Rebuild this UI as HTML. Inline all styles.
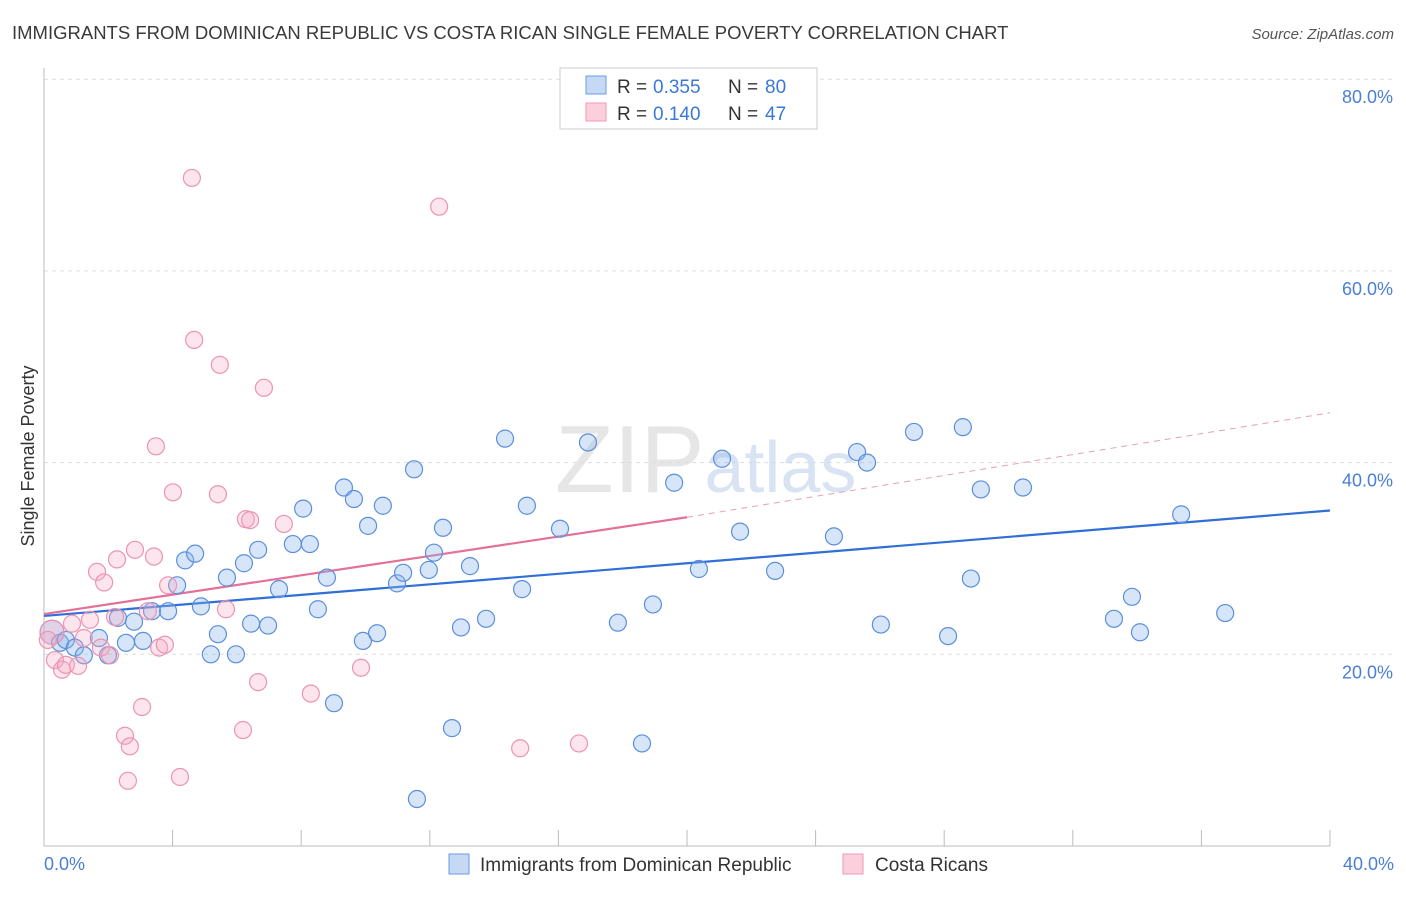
<!DOCTYPE html>
<html><head><meta charset="utf-8"><style>
body{margin:0;background:#fff;font-family:"Liberation Sans",sans-serif;}
svg text{font-family:"Liberation Sans",sans-serif;}
</style></head><body>
<svg id="chart" width="1406" height="892" viewBox="0 0 1406 892">
<text x="12" y="39" font-size="18.5" fill="#3a3a3a">IMMIGRANTS FROM DOMINICAN REPUBLIC VS COSTA RICAN SINGLE FEMALE POVERTY CORRELATION CHART</text>
<text x="1394" y="39" font-size="15" fill="#555" text-anchor="end" font-style="italic">Source: ZipAtlas.com</text>
<text transform="translate(34,456) rotate(-90)" font-size="18" fill="#333" text-anchor="middle">Single Female Poverty</text>
<g id="grid"></g>
<text x="555" y="492" font-size="96" fill="#dcdcdc" font-family="Liberation Serif" opacity="0.7">ZIP<tspan fill="#c8d8ee" font-family="Liberation Sans" font-size="72">atlas</tspan></text>
<line x1="44" y1="68" x2="44" y2="846" stroke="#bbb"/>
<line x1="44" y1="846" x2="1330" y2="846" stroke="#bbb"/>
<g id="ticks"></g>
<g id="trend"></g>
<g id="points"></g>
<text x="44" y="870" font-size="18" fill="#4a7fd4">0.0%</text>
<text x="1394" y="870" font-size="18" fill="#4a7fd4" text-anchor="end">40.0%</text>
<g>
<rect x="560" y="68" width="257" height="61" fill="#fff" stroke="#ccc"/>
<rect x="586" y="76" width="20" height="18" fill="#c5d9f5" stroke="#6b9be0"/>
<rect x="586" y="103" width="20" height="18" fill="#fbd0dc" stroke="#ec9ab3"/>
<text x="617" y="93" font-size="19" fill="#333">R = </text>
<text x="653" y="93" font-size="19" fill="#3b78d8">0.355</text>
<text x="728" y="93" font-size="19" fill="#333">N = </text>
<text x="765" y="93" font-size="19" fill="#3b78d8">80</text>
<text x="617" y="120" font-size="19" fill="#333">R = </text>
<text x="653" y="120" font-size="19" fill="#3b78d8">0.140</text>
<text x="728" y="120" font-size="19" fill="#333">N = </text>
<text x="765" y="120" font-size="19" fill="#3b78d8">47</text>
</g>
<g>
<rect x="449" y="854" width="20" height="20" fill="#c5d9f5" stroke="#6b9be0"/>
<text x="480" y="871" font-size="19" fill="#333">Immigrants from Dominican Republic</text>
<rect x="843" y="854" width="20" height="20" fill="#fbd0dc" stroke="#ec9ab3"/>
<text x="875" y="871" font-size="19" fill="#333">Costa Ricans</text>
</g>
</svg>
<script>
const yTicks=[20,40,60,80];
const yTickLabels=["20.0%","40.0%","60.0%","80.0%"];
const xTicks=[0,4,8,12,16,20,24,28,32,36,40];
const blueX=[0.25,0.50,0.68,0.96,1.24,1.71,1.99,2.30,2.55,2.80,3.08,3.36,3.86,4.14,4.39,4.70,4.88,5.19,5.41,5.69,5.97,6.22,6.44,6.66,6.97,7.31,7.74,8.06,8.27,8.52,8.80,9.02,9.33,9.64,9.92,10.08,10.36,10.54,10.98,11.17,11.51,11.60,11.97,12.13,12.41,12.69,12.97,13.25,13.75,14.34,14.87,15.02,16.05,16.92,17.85,18.60,18.94,19.60,20.37,21.09,21.65,22.74,24.57,25.29,25.60,26.03,27.06,28.12,28.58,28.83,29.14,30.45,33.28,33.84,34.09,35.37,36.74];
const blueY=[22.3,21.2,21.5,20.7,19.9,21.7,19.9,23.8,21.2,23.4,21.4,24.5,24.5,27.2,29.8,30.5,25.0,20.0,22.1,28.0,20.0,29.5,23.2,30.9,23.0,26.8,31.5,35.2,31.5,24.7,28.0,14.9,37.4,36.2,21.4,33.4,22.2,35.5,27.4,28.5,39.3,4.9,28.8,30.6,33.2,12.3,22.8,29.2,23.7,42.5,26.8,35.5,33.1,42.1,23.3,10.7,25.2,37.9,28.9,40.4,32.8,28.7,32.3,41.1,40.0,23.1,43.2,21.9,43.7,27.9,37.2,37.4,23.7,26.0,22.3,34.6,24.3];
const pinkX=[0.25,0.12,0.34,0.56,0.68,0.87,1.06,1.24,1.43,1.65,1.77,1.87,2.05,2.21,2.27,2.52,2.61,2.67,2.83,3.05,3.23,3.42,3.48,3.58,3.76,3.86,4.01,4.23,4.60,4.67,5.41,5.47,5.66,6.19,6.28,6.41,6.66,6.84,7.46,8.30,9.86,12.29,14.81,16.64];
const pinkY=[22.3,21.5,19.4,18.4,18.9,23.2,18.8,21.7,23.6,28.6,20.7,27.5,19.9,23.9,29.9,11.5,6.8,10.4,30.9,14.5,24.5,30.2,41.7,20.7,21.0,27.2,36.9,7.2,69.7,52.8,36.7,50.2,24.7,12.1,34.1,34.0,17.1,47.8,33.6,15.9,18.6,66.7,10.2,10.7];
const blueTrendX=[0,40], blueTrendY=[24.0,35.0];
const pinkTrendX=[0,20,40], pinkTrendY=[24.2,34.3,45.2];
const NS='http://www.w3.org/2000/svg';
function sx(v){return 44+v/40*1286;}
function sy(v){return 846-v/20*191.7;}
function mk(tag,attrs,parent){const e=document.createElementNS(NS,tag);for(const k in attrs)e.setAttribute(k,attrs[k]);document.getElementById(parent).appendChild(e);return e;}
yTicks.forEach((t,i)=>{
 const l=mk('line',{x1:44,x2:1394,y1:sy(t),y2:sy(t),stroke:'#ddd','stroke-dasharray':'4,4'},'grid');
 
 
 const tx=mk('text',{x:1393,y:sy(t)+24,'font-size':18,fill:'#4a7fd4','text-anchor':'end'},'grid');
 tx.textContent=yTickLabels[i];
 
 
});
xTicks.forEach(t=>{
 const l=mk('line',{x1:sx(t),x2:sx(t),y1:830,y2:846,stroke:'#bbb'},'ticks');
 
 
});
for(let i=0;i<blueX.length;i++){
 const c=mk('circle',{cx:sx(blueX[i]),cy:sy(blueY[i]),r:i==0?12:8.5,fill:'rgba(140,180,235,0.35)',stroke:'#5b8fdc','stroke-width':1.2},'points');
 
 
}
for(let i=0;i<pinkX.length;i++){
 const c=mk('circle',{cx:sx(pinkX[i]),cy:sy(pinkY[i]),r:i==0?12:8.5,fill:'rgba(245,170,195,0.3)',stroke:'#ec94b0','stroke-width':1.2},'points');
 
 
}
const bt=mk('line',{x1:sx(blueTrendX[0]),y1:sy(blueTrendY[0]),x2:sx(blueTrendX[1]),y2:sy(blueTrendY[1]),stroke:'#2f6fd6','stroke-width':2.2},'trend');


const pt=mk('line',{x1:sx(pinkTrendX[0]),y1:sy(pinkTrendY[0]),x2:sx(pinkTrendX[1]),y2:sy(pinkTrendY[1]),stroke:'#e4709a','stroke-width':2.2},'trend');


const pd=mk('line',{x1:sx(pinkTrendX[1]),y1:sy(pinkTrendY[1]),x2:sx(pinkTrendX[2]),y2:sy(pinkTrendY[2]),stroke:'#e4a0b8','stroke-width':1,'stroke-dasharray':'6,5'},'trend');


</script>
</body></html>
